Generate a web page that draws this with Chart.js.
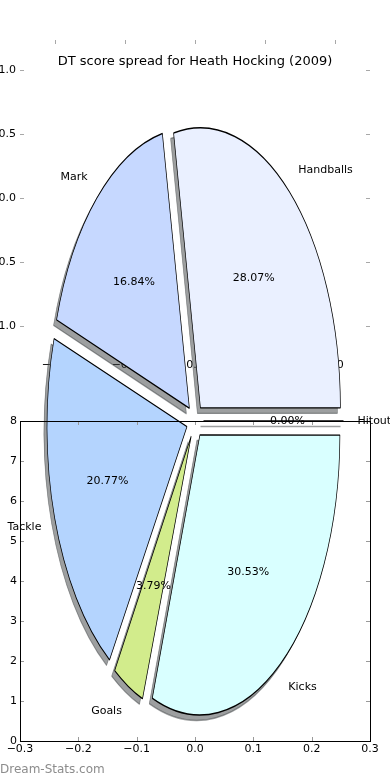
<!DOCTYPE html>
<html>
<head>
<meta charset="utf-8">
<title>DT score spread</title>
<script src="https://cdn.jsdelivr.net/npm/chart.js@4"></script>
<style>
  html, body { margin: 0; padding: 0; background: #fff; }
  #wrap { position: relative; width: 390px; height: 780px; }
  #wrap canvas { position: absolute; left: 0; top: 0; }
</style>
</head>
<body>
<div id="wrap">
  <canvas id="backAxes" width="390" height="780"></canvas>
  <canvas id="pieChart" width="390" height="780"></canvas>
  <canvas id="frontAxes" width="390" height="780"></canvas>
</div>
<script>
// Datos del gráfico (orden horario desde las 3 en punto)
const sliceLabels = ['Hitout', 'Kicks', 'Goals', 'Tackle', 'Mark', 'Handballs'];
const sliceShares = [0.00, 30.53, 3.79, 20.77, 16.84, 28.07];

// Ticks de los dos ejes
const backTicks = [-1.0, -0.5, 0.0, 0.5, 1.0];
const frontXTicks = [-0.3, -0.2, -0.1, 0.0, 0.1, 0.2, 0.3];
const frontYTicks = [0, 1, 2, 3, 4, 5, 6, 7, 8];

const chartTitle = 'DT score spread for Heath Hocking (2009)';
const watermark = 'Dream-Stats.com';

Chart.defaults.font.family = '"DejaVu Sans", sans-serif';
Chart.defaults.animation = false;

const PIE_RADIUS = 140;
const STRETCH = 2.0;
const TICK_LEN = 4;
const SHADOW_COLOR = 'rgba(60, 64, 66, 0.5)';
const SHADOW_DX = -3, SHADOW_DY = 5.5;

function fmt(v, dec) {
    return (v < 0 ? '\u2212' : '') + Math.abs(v).toFixed(dec);
}

// Ejes de fondo (los que quedan tapados por la tarta)
const backAxesLook = {
    id: 'backAxesLook',
    afterDraw(chart) {
        const ctx = chart.ctx;
        const xs = chart.scales.x, ys = chart.scales.y;
        const a = chart.chartArea;
        ctx.save();
        ctx.strokeStyle = '#a8a8a8';
        ctx.lineWidth = 1;
        ctx.beginPath();
        backTicks.forEach(v => {
            const x = Math.round(xs.getPixelForValue(v)) + 0.5;
            ctx.moveTo(x, a.top); ctx.lineTo(x, a.top + TICK_LEN);
            ctx.moveTo(x, a.bottom); ctx.lineTo(x, a.bottom - TICK_LEN);
            const y = Math.round(ys.getPixelForValue(v)) + 0.5;
            ctx.moveTo(a.left, y); ctx.lineTo(a.left + TICK_LEN, y);
            ctx.moveTo(a.right, y); ctx.lineTo(a.right - TICK_LEN, y);
        });
        ctx.stroke();

        ctx.fillStyle = '#000';
        ctx.font = '11px "DejaVu Sans"';
        ctx.textBaseline = 'middle';
        ctx.textAlign = 'center';
        backTicks.forEach(v => {
            ctx.fillText(fmt(v, 1), xs.getPixelForValue(v), a.bottom + 9);
        });
        ctx.textAlign = 'right';
        backTicks.forEach(v => {
            ctx.fillText(fmt(v, 1), a.left - 4, ys.getPixelForValue(v));
        });

        ctx.font = '13px "DejaVu Sans"';
        ctx.textAlign = 'center';
        ctx.textBaseline = 'alphabetic';
        ctx.fillText(chartTitle, (a.left + a.right) / 2, a.top + 25);
        ctx.restore();
    }
};

new Chart(document.getElementById('backAxes'), {
    type: 'scatter',
    data: { datasets: [] },
    options: {
        responsive: false,
        events: [],
        layout: { padding: { left: 20, right: 20, top: 40, bottom: 424 } },
        plugins: { legend: { display: false }, tooltip: { enabled: false } },
        scales: {
            x: { display: false, min: -1.25, max: 1.25 },
            y: { display: false, min: -1.234, max: 1.234 }
        }
    },
    plugins: [backAxesLook]
});

// Borde de un trozo de 0%: solo una línea radial
function zeroSliceEdge(ctx, arc, color) {
    const ang = arc.startAngle;
    const push = (arc.options.offset || 0) / 4;
    ctx.beginPath();
    ctx.moveTo(arc.x + Math.cos(ang) * push, arc.y + Math.sin(ang) * push);
    ctx.lineTo(arc.x + Math.cos(ang) * (push + PIE_RADIUS), arc.y + Math.sin(ang) * (push + PIE_RADIUS));
    ctx.strokeStyle = color;
    ctx.lineWidth = 0.7;
    ctx.stroke();
}

// Tarta estirada en vertical, con sombras y etiquetas
const pieLook = {
    id: 'pieLook',
    beforeDatasetsDraw(chart) {
        const ctx = chart.ctx;
        const arcs = chart.getDatasetMeta(0).data;
        const cx = arcs[0].x, cy = arcs[0].y;
        // quitar el crecimiento radial que Chart.js añade a los trozos pequeños
        arcs.forEach(arc => {
            const push = (arc.options.offset || 0) / 4;
            const fix = 1 - Math.sin(Math.min(Math.PI, arc.circumference || 0));
            arc.outerRadius = PIE_RADIUS - push * fix;
        });
        ctx.save();
        ctx.translate(cx, cy);
        ctx.scale(1, STRETCH);
        ctx.translate(-cx, -cy);

        // sombras: copias grises desplazadas, debajo de todos los trozos
        ctx.save();
        ctx.translate(SHADOW_DX, SHADOW_DY / STRETCH);
        arcs.forEach(arc => {
            if (arc.circumference > 0) {
                const ghost = Object.create(arc);
                ghost.options = Object.assign({}, arc.options, {
                    backgroundColor: SHADOW_COLOR,
                    borderColor: SHADOW_COLOR
                });
                ghost.draw(ctx);
            } else {
                zeroSliceEdge(ctx, arc, SHADOW_COLOR);
            }
        });
        ctx.restore();
    },
    afterDatasetsDraw(chart) {
        const ctx = chart.ctx;
        const arcs = chart.getDatasetMeta(0).data;
        arcs.forEach(arc => {
            if (arc.circumference === 0) zeroSliceEdge(ctx, arc, '#000');
        });
        ctx.restore();

        const total = sliceShares.reduce((s, v) => s + v, 0);
        ctx.save();
        ctx.fillStyle = '#000';
        ctx.font = '11px "DejaVu Sans"';
        ctx.textBaseline = 'middle';
        arcs.forEach((arc, i) => {
            const mid = (arc.startAngle + arc.endAngle) / 2;
            const push = (arc.options.offset || 0) / 4;
            const c = Math.cos(mid), s = Math.sin(mid);
            const at = r => [arc.x + c * (push + r), arc.y + s * (push + r) * STRETCH];
            const [lx, ly] = at(PIE_RADIUS * 1.1);
            ctx.textAlign = c > 0 ? 'left' : 'right';
            ctx.fillText(chart.data.labels[i], lx, ly);
            const [px, py] = at(PIE_RADIUS * 0.6);
            ctx.textAlign = 'center';
            ctx.fillText((sliceShares[i] / total * 100).toFixed(2) + '%', px, py);
        });
        ctx.restore();
    }
};

new Chart(document.getElementById('pieChart'), {
    type: 'pie',
    data: {
        labels: sliceLabels,
        datasets: [{
            data: sliceShares,
            backgroundColor: ['#ffffff', '#d9ffff', '#d2ec8c', '#b4d4fe', '#c6d8ff', '#eaf0ff'],
            borderColor: '#000',
            borderWidth: 0.7,
            offset: 34,
            clip: false
        }]
    },
    options: {
        responsive: false,
        events: [],
        rotation: 90,
        radius: PIE_RADIUS,
        layout: { padding: { left: 0, right: 0, top: 62, bottom: 0 } },
        plugins: { legend: { display: false }, tooltip: { enabled: false } }
    },
    plugins: [pieLook]
});

// Ejes delanteros (marco que se dibuja encima de la tarta)
const frontAxesLook = {
    id: 'frontAxesLook',
    afterDraw(chart) {
        const ctx = chart.ctx;
        const xs = chart.scales.x, ys = chart.scales.y;
        const a = chart.chartArea;
        ctx.save();
        ctx.strokeStyle = '#999';
        ctx.lineWidth = 1;
        ctx.beginPath();
        frontXTicks.forEach(v => {
            const x = Math.round(xs.getPixelForValue(v)) + 0.5;
            ctx.moveTo(x, a.top); ctx.lineTo(x, a.top + TICK_LEN);
            ctx.moveTo(x, a.bottom); ctx.lineTo(x, a.bottom - TICK_LEN);
        });
        frontYTicks.forEach(v => {
            const y = Math.round(ys.getPixelForValue(v)) + 0.5;
            ctx.moveTo(a.left, y); ctx.lineTo(a.left + TICK_LEN, y);
            ctx.moveTo(a.right, y); ctx.lineTo(a.right - TICK_LEN, y);
        });
        ctx.stroke();

        ctx.strokeStyle = '#000';
        ctx.strokeRect(a.left + 0.5, a.top + 0.5, a.right - a.left, a.bottom - a.top);

        ctx.fillStyle = '#000';
        ctx.font = '11px "DejaVu Sans"';
        ctx.textBaseline = 'middle';
        ctx.textAlign = 'center';
        frontXTicks.forEach(v => {
            ctx.fillText(fmt(v, 1), xs.getPixelForValue(v), a.bottom + 8);
        });
        ctx.textAlign = 'right';
        frontYTicks.forEach(v => {
            ctx.fillText(fmt(v, 0), a.left - 3, ys.getPixelForValue(v));
        });

        ctx.fillStyle = '#8c8c8c';
        ctx.font = '12px "DejaVu Sans"';
        ctx.textAlign = 'left';
        ctx.fillText(watermark, 0, 770);
        ctx.restore();
    }
};

new Chart(document.getElementById('frontAxes'), {
    type: 'scatter',
    data: { datasets: [] },
    options: {
        responsive: false,
        events: [],
        layout: { padding: { left: 20, right: 20, top: 421, bottom: 39 } },
        plugins: { legend: { display: false }, tooltip: { enabled: false } },
        scales: {
            x: { display: false, min: -0.3, max: 0.3 },
            y: { display: false, min: 0, max: 8 }
        }
    },
    plugins: [frontAxesLook]
});
</script>
</body>
</html>
